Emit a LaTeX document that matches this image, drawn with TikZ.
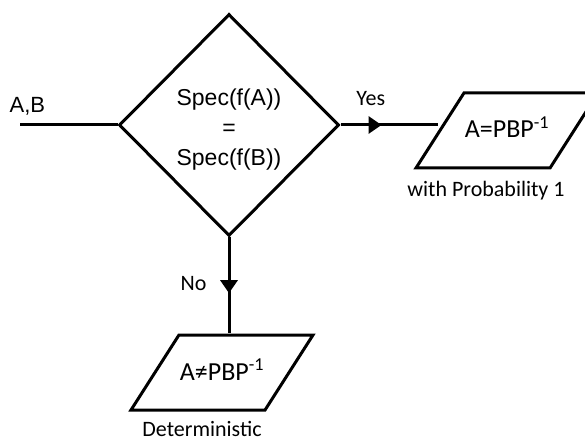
\documentclass[tikz,border=0pt]{standalone}
\usepackage{fontspec}
\setmainfont{Carlito}
\newfontfamily\arialfont{Liberation Sans}
\usetikzlibrary{shapes.geometric,arrows.meta,decorations.markings,backgrounds,positioning}

\tikzset{
  flow/.style={line width=3pt},
  decision/.style={diamond, draw, flow, fill=white, minimum width=220pt, minimum height=222pt, inner sep=0pt},
  spec/.style={inner sep=0pt, align=center, font=\arialfont\fontsize{23}{30}\selectfont},
  io/.style={trapezium, trapezium left angle=57.4, trapezium right angle=122.6,
    trapezium stretches body, draw, flow, fill=white, minimum width=182pt,
    inner xsep=0pt, inner ysep=27pt, text height=18pt, text depth=3pt,
    font=\fontsize{26}{30}\selectfont},
  tag/.style={inner sep=0pt, font=\fontsize{22}{26}\selectfont},
  midarrow/.style={postaction={decorate}, decoration={markings,
    mark=at position #1 with {\arrow{Triangle[length=13pt, width=17pt]}}}}
}

\begin{document}
\begin{tikzpicture}[x=1pt, y=-1pt]
	\useasboundingbox (0,0) rectangle (585,443);

	% the test and its two outcomes
	\node[decision] (dia) at (229,125) {};
	\node[spec] (spectext) at ([yshift=-5pt]dia.center) {Spec(f(A))\\=\\Spec(f(B))};
	\node[io] (yesbox) at (507,130.5) {A=PBP\textsuperscript{-1}};
	\node[io] (nobox) at (222,372.5) {A≠PBP\textsuperscript{-1}};
	\node[tag, below=12pt of yesbox.south, xshift=-21pt] (yesnote) {with Probability 1};
	\node[tag, below=10pt of nobox.south, xshift=-20pt] (nonote) {Deterministic};

	\coordinate (in) at (20,125);
	\begin{pgfonlayer}{background}
	\draw[flow] (in) -- node[tag, pos=0.076, above=8pt, font=\arialfont\fontsize{22}{26}\selectfont] (ab) {A,B} (dia.west);
	\draw[flow, midarrow=0.42] (dia.east) -- node[tag, pos=0.31, above=18pt] (yes) {Yes} (dia.east -| yesbox.west);
	\draw[flow, midarrow=0.58] (dia.south) -- node[tag, pos=0.48, left=21pt] (no) {No} (dia.south |- nobox.north);
	\end{pgfonlayer}
\end{tikzpicture}
\end{document}
